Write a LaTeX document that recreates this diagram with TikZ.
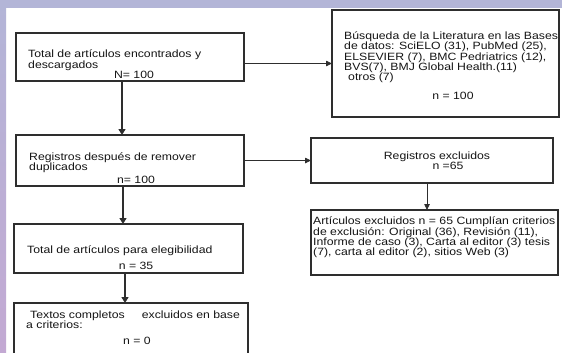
\documentclass[tikz,border=0pt]{standalone}
\usepackage{fontspec}
\setmainfont[FakeStretch=1.16]{Liberation Sans}
\usetikzlibrary{arrows.meta}

\definecolor{boxgray}{HTML}{2E2E2E}
\definecolor{textgray}{HTML}{151515}
\definecolor{bandblue}{HTML}{B3B5D7}
\definecolor{stripcyan}{HTML}{A9D3E3}
\definecolor{stripmauve}{HTML}{C3A9D3}

\tikzset{
  flowbox/.style={draw=boxgray, line width=1.2pt, inner sep=0, outer sep=0, anchor=north west},
  txt/.style={inner sep=0, text=textgray, align=left, font=\fontsize{10.6}{10.3}\selectfont},
  thickarrow/.style={-{Triangle[length=6bp,width=7bp]}, line width=1.4pt, boxgray},
  thinarrow/.style={-{Triangle[length=6bp,width=5.5bp]}, line width=0.8pt, boxgray}
}

\begin{document}
\begin{tikzpicture}[x=1bp, y=-1bp]
  % Page and background
  \useasboundingbox (0,0) rectangle (562,352);
  \fill[white] (0,0) rectangle (562,352);
  \fill[bandblue] (0,0) rectangle (562,8);
  \shade[top color=bandblue, middle color=stripcyan, bottom color=stripmauve] (0,0) rectangle (6,352);

  % Left column
  \node[flowbox, minimum width=228bp, minimum height=48bp] (total) at (16,33) {};
  \node[flowbox, minimum width=228bp, minimum height=51bp] (duplic) at (16,135) {};
  \node[flowbox, minimum width=229bp, minimum height=49bp] (eleg) at (14,224) {};
  \node[flowbox, minimum width=234bp, minimum height=67bp] (textos) at (14,303) {};

  % Right column
  \node[flowbox, minimum width=227bp, minimum height=107bp] (busq) at (332,10) {};
  \node[flowbox, minimum width=242bp, minimum height=45bp] (regexc) at (311,138) {};
  \node[flowbox, minimum width=247bp, minimum height=65bp] (artexc) at (311,210) {};

  % Texts (multi-line: base = last line)
  \node[txt, anchor=base west] (totaltxt) at (28,68) {Total de artículos encontrados y\\descargados};
  \node[txt, anchor=base] (totaln) at (134,78.5) {N= 100};
  \node[txt, anchor=base west] (duplictxt) at (29,170.3) {Registros después de remover\\duplicados};
  \node[txt, anchor=base] (duplicn) at (136,183.5) {n= 100};
  \node[txt, anchor=base west] (elegtxt) at (27,253.5) {Total de artículos para elegibilidad};
  \node[txt, anchor=base] (elegn) at (136,269.5) {n = 35};
  \node[txt, anchor=base west] (textostxt) at (26,328.3) {\hspace*{4bp}Textos completos\hspace{17bp}excluidos en base\\a criterios:};
  \node[txt, anchor=base] (textosn) at (137,344.3) {n = 0};

  \node[txt, anchor=base west] (busqtxt) at (344,80.6) {Búsqueda de la Literatura en las Bases\\de datos: SciELO (31), PubMed (25),\\ELSEVIER (7), BMC Pedriatrics (12),\\BVS(7), BMJ Global Health.(11)\\\hspace*{4bp}otros (7)};
  \node[txt, anchor=base] (busqn) at (453,99.5) {n = 100};
  \node[txt, anchor=base] (regexctxt) at (437,159.5) {Registros excluidos};
  \node[txt, anchor=base] (regexcn) at (448,169.5) {n =65};
  \node[txt, anchor=base west] (artexctxt) at (313,255.6) {Artículos excluidos n = 65 Cumplían criterios\\de exclusión: Original (36), Revisión (11),\\Informe de caso (3), Carta al editor (3) tesis\\(7), carta al editor (2), sitios Web (3)};

  % Arrows
  \draw[thickarrow] ([xshift=-8bp]total.south) -- ([xshift=-8bp]total.south |- duplic.north);
  \draw[thickarrow] ([xshift=-7bp]duplic.south) -- ([xshift=-7bp]duplic.south |- eleg.north);
  \draw[thickarrow] ([xshift=-3.5bp]eleg.south) -- ([xshift=-3.5bp]eleg.south |- textos.north);
  \draw[thinarrow] (total.east |- busq.west) -- (busq.west);
  \draw[thinarrow] (duplic.east) -- (regexc.west);
  \draw[thinarrow] ([xshift=-5bp]regexc.south) -- ([xshift=-5bp]regexc.south |- artexc.north);
\end{tikzpicture}
\end{document}
